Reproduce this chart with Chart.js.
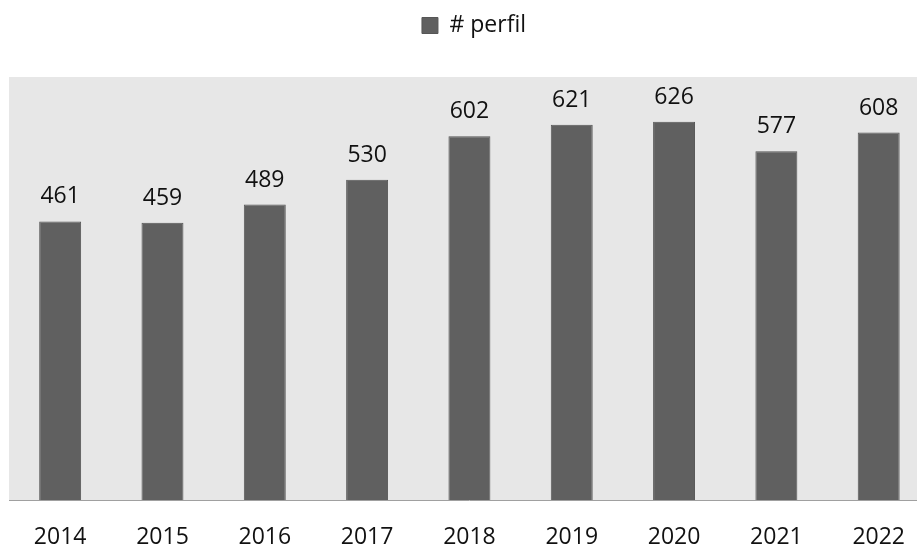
<!DOCTYPE html>
<html>
<head>
<meta charset="utf-8">
<script src="https://cdn.jsdelivr.net/npm/chart.js@4/dist/chart.umd.min.js"></script>
<style>
  html, body { margin: 0; padding: 0; background: #fff; overflow: hidden; }
  /* the original plot area runs past the right edge of the picture */
  #wrap { width: 931px; height: 546px; }
</style>
</head>
<body>
<div id="wrap"><canvas id="perfilChart"></canvas></div>
<script>
const years = ['2014', '2015', '2016', '2017', '2018', '2019', '2020', '2021', '2022'];
const perfil = [461, 459, 489, 530, 602, 621, 626, 577, 608];
const seriesName = '# perfil';

// grey plot background, like the spreadsheet chart
const plotBg = {
    id: 'plotBg',
    beforeDraw(chart) {
        const { ctx, chartArea: a } = chart;
        ctx.save();
        ctx.fillStyle = '#e7e7e7';
        ctx.fillRect(a.left, a.top, a.right - a.left, a.bottom - a.top);
        ctx.restore();
    }
};

// extra room under the legend, and nudge it a bit to the right
const legendGap = {
    id: 'legendGap',
    beforeInit(chart) {
        const fit = chart.legend.fit;
        chart.legend.fit = function () {
            fit.call(this);
            this.height += 30;
        };
    },
    afterLayout(chart) {
        chart.legend.left += 4;
        chart.legend.right += 4;
    }
};

// value above each bar
const valueLabels = {
    id: 'valueLabels',
    afterDatasetsDraw(chart) {
        const { ctx } = chart;
        const meta = chart.getDatasetMeta(0);
        ctx.save();
        ctx.font = '23px "Open Sans"';
        ctx.fillStyle = '#111';
        ctx.textAlign = 'center';
        ctx.textBaseline = 'alphabetic';
        meta.data.forEach((bar, i) => {
            ctx.fillText(chart.data.datasets[0].data[i], bar.x, bar.y - 18);
        });
        ctx.restore();
    }
};

new Chart(document.getElementById('perfilChart'), {
    type: 'bar',
    data: {
        labels: years,
        datasets: [{
            label: seriesName,
            data: perfil,
            backgroundColor: '#606060',
            borderColor: '#565656',
            borderWidth: 1,
            categoryPercentage: 1,
            barPercentage: 0.41
        }]
    },
    options: {
        responsive: true,
        maintainAspectRatio: false,
        animation: false,
        layout: { padding: { left: 9, right: 0, top: 0, bottom: 0 } },
        plugins: {
            legend: {
                position: 'top',
                labels: {
                    boxWidth: 16,
                    boxHeight: 16,
                    padding: 14,
                    color: '#111',
                    font: { family: 'Open Sans', size: 23 }
                }
            },
            tooltip: { enabled: false }
        },
        scales: {
            x: {
                grid: { display: false, drawTicks: false },
                border: { display: true, color: '#a0a0a0', width: 1 },
                ticks: {
                    color: '#111',
                    padding: 26,
                    font: { family: 'Open Sans', size: 23, lineHeight: 1 }
                },
                afterFit(scale) {
                    scale.height = 46;
                }
            },
            y: {
                display: false,
                min: 0,
                max: 700
            }
        }
    },
    plugins: [plotBg, legendGap, valueLabels]
});
</script>
</body>
</html>
